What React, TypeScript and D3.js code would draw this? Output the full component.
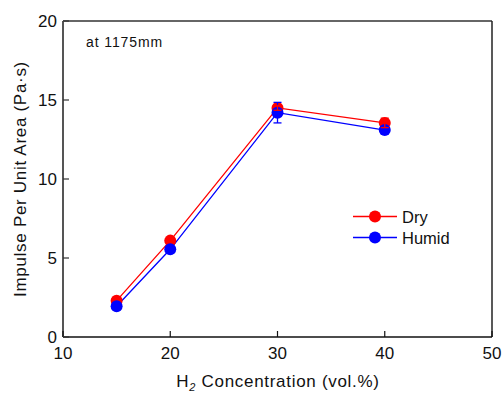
import React from "react";
import * as d3 from "d3";

const concentrations = [15, 20, 30, 40];
const dryValues = [2.3, 6.1, 14.5, 13.55];
const dryErrors = [0, 0, 0.15, 0.3];
const humidValues = [1.95, 5.55, 14.2, 13.1];
const humidErrors = [0, 0, 0.65, 0.2];
const xTicks = [10, 20, 30, 40, 50];
const yTicks = [0, 5, 10, 15, 20];
const seriesNames = ["Dry", "Humid"];

const W = 502;
const H = 394;
const margin = { left: 63, right: 10, top: 21, bottom: 57 };
const FONT = "'Liberation Sans', Arial, sans-serif";

export default function App() {
  const x = d3.scaleLinear().domain([10, 50]).range([margin.left, W - margin.right]);
  const y = d3.scaleLinear().domain([0, 20]).range([H - margin.bottom, margin.top]);
  const line = d3
    .line<[number, number]>()
    .x((d) => x(d[0]))
    .y((d) => y(d[1]));

  const series = [
    { name: seriesNames[0], values: dryValues, errors: dryErrors, color: "#ff0000" },
    { name: seriesNames[1], values: humidValues, errors: humidErrors, color: "#0000ff" },
  ];

  const x0 = x(10), x1 = x(50), y0 = y(0), y1 = y(20);

  return (
    <svg width={W} height={H} style={{ position: "absolute", left: 0, top: 0, background: "#fff" }}>
      <rect x={0} y={0} width={W} height={H} fill="#fff" />
      {series.map((s) => (
        <path
          key={s.name + "l"}
          d={line(concentrations.map((c, i) => [c, s.values[i]]) as [number, number][]) || ""}
          fill="none"
          stroke={s.color}
          strokeWidth={1.3}
        />
      ))}
      {series.map((s) =>
        concentrations.map((c, i) => (
          <circle key={s.name + "m" + i} cx={x(c)} cy={y(s.values[i])} r={6} fill={s.color} />
        ))
      )}
      {[series[1], series[0]].map((s) =>
        concentrations.map((c, i) =>
          s.errors[i] > 0 ? (
            <g key={s.name + "e" + i} stroke={s.color} strokeWidth={1.3}>
              <line x1={x(c)} x2={x(c)} y1={y(s.values[i] - s.errors[i])} y2={y(s.values[i] + s.errors[i])} />
              <line x1={x(c) - 4} x2={x(c) + 4} y1={y(s.values[i] - s.errors[i])} y2={y(s.values[i] - s.errors[i])} />
              <line x1={x(c) - 4} x2={x(c) + 4} y1={y(s.values[i] + s.errors[i])} y2={y(s.values[i] + s.errors[i])} />
            </g>
          ) : null
        )
      )}
      <line x1={x0} x2={x1} y1={y1} y2={y1} stroke="#333" strokeWidth={1.5} />
      <line x1={x1} x2={x1} y1={y1} y2={y0} stroke="#222" strokeWidth={1.5} />
      <line x1={x0} x2={x1} y1={y0} y2={y0} stroke="#111" strokeWidth={1.5} />
      <line x1={x0} x2={x0} y1={y1} y2={y0} stroke="#555" strokeWidth={2} />
      {xTicks.map((t) => (
        <g key={"xt" + t}>
          <line x1={x(t)} x2={x(t)} y1={y0} y2={y0 - 6} stroke="#111" strokeWidth={1.2} />
          <text x={x(t)} y={y0 + 22} textAnchor="middle" fontFamily={FONT} fontSize={17} fill="#111">
            {t}
          </text>
        </g>
      ))}
      {yTicks.map((t) => (
        <g key={"yt" + t}>
          <line x1={x0} x2={x0 + 6} y1={y(t)} y2={y(t)} stroke="#333" strokeWidth={1.2} />
          <text x={x0 - 6} y={y(t) + 6} textAnchor="end" fontFamily={FONT} fontSize={17} fill="#111">
            {t}
          </text>
        </g>
      ))}
      <text x={278} y={387} textAnchor="middle" fontFamily={FONT} fontSize={17} letterSpacing={0.7} fill="#111">
        H<tspan fontSize={11} dy={3.5} fontStyle="italic">2</tspan>
        <tspan dy={-3.5}> Concentration (vol.%)</tspan>
      </text>
      <text
        transform={`translate(26, ${(y0 + y1) / 2}) rotate(-90)`}
        textAnchor="middle"
        fontFamily={FONT}
        fontSize={17}
        letterSpacing={0.7}
        fill="#111"
      >
        Impulse Per Unit Area (Pa·s)
      </text>
      <text x={86} y={47} fontFamily={FONT} fontSize={14} letterSpacing={0.9} fill="#111">
        at 1175mm
      </text>
      {series.map((s, i) => (
        <g key={s.name + "lg"}>
          <line x1={353} x2={397} y1={216.5 + i * 21} y2={216.5 + i * 21} stroke={s.color} strokeWidth={1.3} />
          <circle cx={375} cy={216.5 + i * 21} r={6} fill={s.color} />
          <text x={402} y={222.5 + i * 21} fontFamily={FONT} fontSize={16.5} fill="#111">
            {s.name}
          </text>
        </g>
      ))}
    </svg>
  );
}
